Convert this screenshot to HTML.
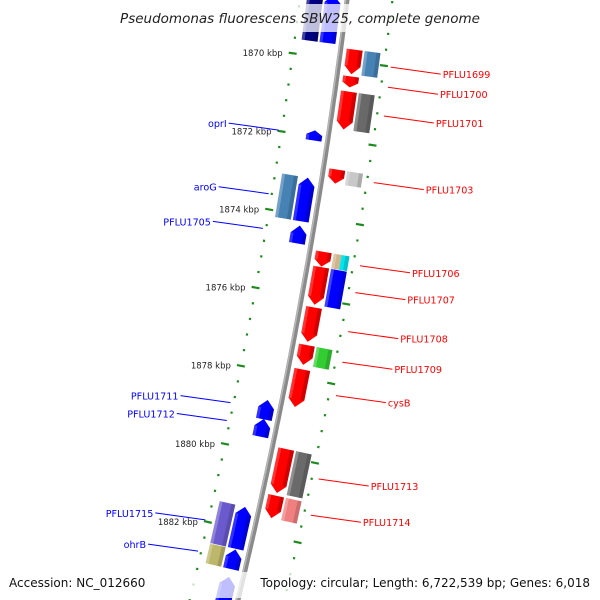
<!DOCTYPE html>
<html><head><meta charset="utf-8"><style>
body{margin:0;background:#fff;}
svg{display:block;font-family:"DejaVu Sans","Liberation Sans",sans-serif;}
</style></head><body>
<svg id="c" width="600" height="600" viewBox="0 0 600 600" xmlns="http://www.w3.org/2000/svg">
<g id="g"></g>
<rect x="0" y="4" width="600" height="28" fill="#fff" fill-opacity="0.75"/>
<text x="300" y="23" text-anchor="middle" font-style="italic" font-size="13.5" fill="#222">Pseudomonas fluorescens SBW25, complete genome</text>
<rect x="0" y="572" width="600" height="26" fill="#fff" fill-opacity="0.75"/>
<text x="9" y="587" font-size="12" fill="#111">Accession: NC_012660</text>
<text x="590" y="587" text-anchor="end" font-size="12" fill="#111">Topology: circular; Length: 6,722,539 bp; Genes: 6,018</text>
</svg>
<script>
// gene data (kbp)
const geneStart = [1869.70,1870.38,1870.76,1872.74,1874.82,1875.20,1876.22,1877.18,1877.79,1879.80,1880.99, 1868.4,1871.85,1873.05,1874.27,1878.71,1879.19,1881.42,1882.51,1883.20];
const geneEnd   = [1870.33,1870.66,1871.73,1873.10,1875.20,1876.17,1877.11,1877.69,1878.76,1880.94,1881.57, 1869.63,1872.11,1874.17,1874.73,1879.21,1879.65,1882.51,1883.02,1884.20];
const geneStrand= [1,1,1,1,1,1,1,1,1,1,1, -1,-1,-1,-1,-1,-1,-1,-1,-1];
const geneLabel = ["PFLU1699","PFLU1700","PFLU1701","PFLU1703","PFLU1706","PFLU1707","PFLU1708","PFLU1709","cysB","PFLU1713","PFLU1714", "","oprI","aroG","PFLU1705","PFLU1711","PFLU1712","PFLU1715","ohrB",""];
const cogColor  = ["#4682b4","","#696969","#c8c8c8","tan|#00e5ee","#0000ff","","#33cc33","","#6a6a6a","#f08080", "#000080","","#4682b4","","","","#6a5acd","#bdb76b",""];
const tickValues = [1870,1872,1874,1876,1878,1880,1882];
const tickLabels = ["1870 kbp","1872 kbp","1874 kbp","1876 kbp","1878 kbp","1880 kbp","1882 kbp"];

const NS="http://www.w3.org/2000/svg";
const G=document.getElementById('g');
function el(t,a,p){const e=document.createElementNS(NS,t);for(const k in a)e.setAttribute(k,a[k]);(p||G).appendChild(e);return e;}
const PX=39.4;
function yOf(p){return 59.5+(p-1870)*PX;}
function xOf(y){return 347-0.124*y-9.62e-5*y*y;}
function slope(y){return -0.124-2*9.62e-5*y;}
function frame(p){const y=yOf(p),x=xOf(y),s=slope(y),ang=-Math.atan(s);return {x,y,ang,deg:ang*180/Math.PI};}
function pt(p,r){const f=frame(p);return [f.x+r*Math.cos(f.ang), f.y+r*Math.sin(f.ang)];}

let d="";for(let y=-10;y<=610;y+=5){d+=(y==-10?"M":"L")+xOf(y).toFixed(1)+","+y;}
const bb=el('path',{d:d,stroke:'#8a8a8a','stroke-width':5,fill:'none'});


const bb2=el('path',{d:d,stroke:'#b8b8b8','stroke-width':1.5,fill:'none',transform:'translate(-1.5,0)'});



for(let p=1868.4;p<=1884.4;p+=0.4){
  const isTick=tickValues.some(t=>Math.abs(t-p)<0.05);
  [-47,45].forEach(r=>{
    const f=frame(p);const gg=el('g',{transform:`translate(${(f.x+r*Math.cos(f.ang)).toFixed(1)},${(f.y+r*Math.sin(f.ang)).toFixed(1)}) rotate(${f.deg.toFixed(2)})`});
    
    
    if(isTick) el('rect',{x:-4,y:-1,width:8,height:2.2,fill:'#1e8a1e'},gg);
    else el('rect',{x:-1,y:-1,width:2.2,height:2.2,fill:'#1e8a1e'},gg);
  });
}
tickValues.forEach((t,i)=>{
  const q=pt(t,-47);
  const tx=el('text',{x:(q[0]-10).toFixed(1),y:(q[1]+3).toFixed(1),'text-anchor':'end','font-size':8.5,fill:'#222'});
  tx.textContent=tickLabels[i];
  
  
});

geneStart.forEach((s,i)=>{
  const e=geneEnd[i],st=geneStrand[i],mid=(s+e)/2,L=(e-s)*PX,f=frame(mid);
  const gg=el('g',{transform:`translate(${f.x.toFixed(1)},${f.y.toFixed(1)}) rotate(${f.deg.toFixed(2)})`});
  
  
  const h=L/2,ah=Math.min(8,L*0.45);
  const a=st>0?6:-22,b=st>0?22:-6,m=(a+b)/2;
  const col=st>0?'#ff0000':'#0000ff';
  let pts;
  if(st>0) pts=[[a,-h],[b,-h],[b,h-ah],[m,h],[a,h-ah]];
  else pts=[[m,-h],[b,-h+ah],[b,h],[a,h],[a,-h+ah]];
  el('polygon',{points:pts.map(q=>q.join(',')).join(' '),fill:col},gg);
  el('rect',{x:b-4,y:st>0?-h:-h+ah,width:4,height:L-ah,fill:'#000','fill-opacity':0.18},gg);
  el('rect',{x:a,y:st>0?-h:-h+ah,width:3,height:L-ah,fill:'#fff','fill-opacity':0.2},gg);
  const cc=cogColor[i];
  if(cc){
    const oa=st>0?24:-40;
    const cols=cc.split('|');const w=16/cols.length;
    cols.forEach((c,k)=>{el('rect',{x:oa+k*w,y:-h,width:w,height:L,fill:c},gg);});
    el('rect',{x:oa+12,y:-h,width:4,height:L,fill:'#000','fill-opacity':0.15},gg);
    el('rect',{x:oa,y:-h,width:3,height:L,fill:'#fff','fill-opacity':0.25},gg);
  }
  if(geneLabel[i]){
    const q=pt(mid,st>0?52:-50);
    const x2=st>0?q[0]+50:q[0]-50,y2=st>0?q[1]+7:q[1]-7;
    const ln=el('line',{x1:q[0].toFixed(1),y1:q[1].toFixed(1),x2:x2.toFixed(1),y2:y2.toFixed(1),stroke:col,'stroke-width':1});
    
    
    const tx=el('text',{x:(st>0?x2+2:x2-2).toFixed(1),y:(y2+4).toFixed(1),'text-anchor':st>0?'start':'end','font-size':9.6,fill:col});
    tx.textContent=geneLabel[i];
    
    
  }
});
</script>
</body></html>
